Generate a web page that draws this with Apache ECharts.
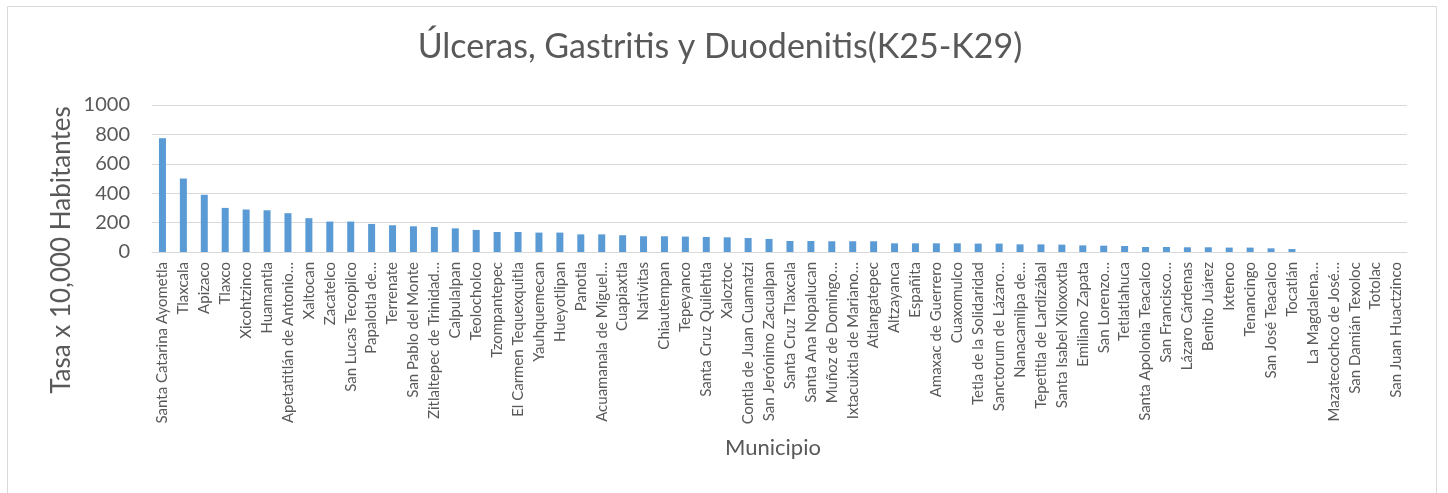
<!DOCTYPE html>
<html>
<head>
<meta charset="utf-8">
<script src="https://cdn.jsdelivr.net/npm/echarts@6/dist/echarts.min.js"></script>
<style>html,body{margin:0;padding:0;background:#fff;}#chart{width:1448px;height:493px;}</style>
</head>
<body>
<div id="chart"></div>
<script>
const titleText = "Úlceras, Gastritis y Duodenitis(K25-K29)";
const yAxisTitle = "Tasa x 10,000 Habitantes";
const xAxisTitle = "Municipio";
const municipios = [
  "Santa Catarina Ayometla","Tlaxcala","Apizaco","Tlaxco","Xicohtzinco","Huamantla",
  "Apetatitlán de Antonio…","Xaltocan","Zacatelco","San Lucas Tecopilco","Papalotla de…",
  "Terrenate","San Pablo del Monte","Zitlaltepec de Trinidad…","Calpulalpan","Teolocholco",
  "Tzompantepec","El Carmen Tequexquitla","Yauhquemecan","Hueyotlipan","Panotla",
  "Acuamanala de Miguel…","Cuapiaxtla","Nativitas","Chiautempan","Tepeyanco",
  "Santa Cruz Quilehtla","Xaloztoc","Contla de Juan Cuamatzi","San Jerónimo Zacualpan",
  "Santa Cruz Tlaxcala","Santa Ana Nopalucan","Muñoz de Domingo…","Ixtacuixtla de Mariano…",
  "Atlangatepec","Altzayanca","Españita","Amaxac de Guerrero","Cuaxomulco",
  "Tetla de la Solidaridad","Sanctorum de Lázaro…","Nanacamilpa de…","Tepetitla de Lardizábal",
  "Santa Isabel Xiloxoxtla","Emiliano Zapata","San Lorenzo…","Tetlatlahuca",
  "Santa Apolonia Teacalco","San Francisco…","Lázaro Cárdenas","Benito Juárez","Ixtenco",
  "Tenancingo","San José Teacalco","Tocatlán","La Magdalena…","Mazatecochco de José…",
  "San Damián Texoloc","Totolac","San Juan Huactzinco"
];
const tasas = [
  774,500,389,300,289,284,264,230,207,207,191,182,175,170,161,150,136,136,132,132,120,
  120,114,107,107,105,102,100,95,89,75,75,73,73,73,59,59,59,59,57,57,52,52,50,45,43,41,
  34,34,32,32,30,30,25,20,0,0,0,0,0
];
const yTicks = [0,200,400,600,800,1000];

const FONT = "Lato";
const chart = echarts.init(document.getElementById('chart'), null, {renderer:'canvas'});
chart.setOption({
  animation:false,
  backgroundColor:'#ffffff',
  graphic:[
    {type:'rect',shape:{x:7.5,y:6.5,width:1429,height:500},style:{fill:'none',stroke:'#D9D9D9',lineWidth:1},silent:true},
    {type:'text',x:720,y:47,style:{text:titleText,fontFamily:FONT,fontSize:34,fill:'#595959',align:'center',verticalAlign:'middle'}},
    {type:'text',x:62,y:250,rotation:Math.PI/2,style:{text:yAxisTitle,fontFamily:FONT,fontSize:26,fill:'#595959',align:'center',verticalAlign:'middle'}},
    {type:'text',x:773,y:448,style:{text:xAxisTitle,fontFamily:FONT,fontSize:22,fill:'#595959',align:'center',verticalAlign:'middle'}}
  ],
  grid:{left:152,right:41,top:105,bottom:241,containLabel:false},
  xAxis:{
    type:'category', data:municipios,
    axisLine:{show:true,lineStyle:{color:'#D9D9D9',width:1}},
    axisTick:{show:false},
    axisLabel:{rotate:90,interval:0,fontFamily:FONT,fontSize:15,color:'#595959',margin:10}
  },
  yAxis:{
    type:'value', min:yTicks[0], max:yTicks[yTicks.length-1], interval:200,
    axisLine:{show:false}, axisTick:{show:false},
    axisLabel:{fontFamily:FONT,fontSize:20,color:'#595959',margin:22,formatter:function(v){return String(v);}},
    splitLine:{lineStyle:{color:'#D9D9D9',width:1}}
  },
  series:[{type:'bar',data:tasas,barWidth:7,itemStyle:{color:'#5B9BD5'}}]
});
</script>
</body>
</html>
